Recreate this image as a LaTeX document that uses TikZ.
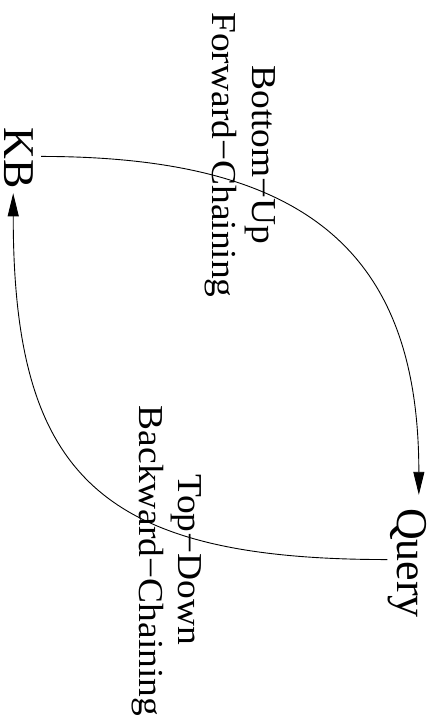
\documentclass[tikz,border=0pt]{standalone}
\usepackage{fontspec}
\setmainfont{Liberation Serif}
\usetikzlibrary{arrows.meta}

\tikzset{
  bigword/.style={rotate=-90, font=\fontsize{44}{50}\selectfont},
  sideword/.style={rotate=-90, xscale=1.07, anchor=base, inner sep=0pt,
                   font=\fontsize{35}{40}\selectfont},
  flow/.style={line width=0.9pt, -{Triangle[length=23pt,width=11pt]}}
}

\begin{document}
\begin{tikzpicture}[x=1pt, y=-1pt]
  \useasboundingbox (0,0) rectangle (446,719);

  % the two ends of the cycle
  \node[bigword, anchor=base, inner xsep=4pt, inner ysep=0pt] (kb) at (5,158.5) {KB};
  \node[bigword, anchor=base, inner xsep=13pt, inner ysep=0pt] (query) at (397,563) {Query};

  % labels of the two directions
  \node[sideword] (fwdtop) at (252,155) {Bottom−Up};
  \node[sideword] (fwdbot) at (212,155) {Forward−Chaining};
  \node[sideword] (bwdtop) at (178,560) {Top−Down};
  \node[sideword] (bwdbot) at (139,561) {Backward−Chaining};

  % forward chaining: from the knowledge base to the query
  \draw[flow, shorten <=7pt] (kb.98) .. controls +(274,0) and +(0,-241) .. (query.170);
  % backward chaining: from the query back to the knowledge base
  \draw[flow] (query.-100) .. controls +(-288,0) and +(0,282) .. (kb.-10);
\end{tikzpicture}
\end{document}
